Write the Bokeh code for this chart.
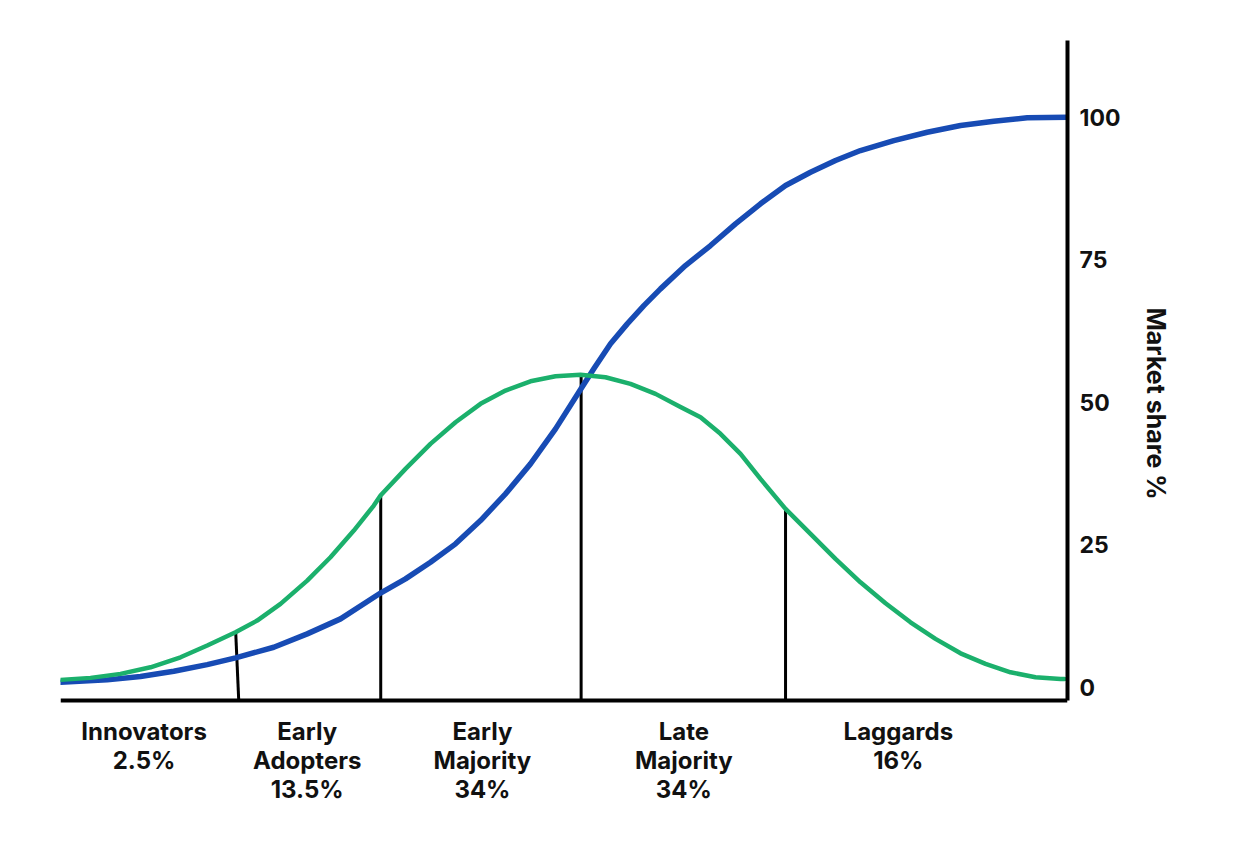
from bokeh.plotting import figure
from bokeh.models import FixedTicker, Range1d, ColumnDataSource, Title
from bokeh.core.properties import value
from bokeh.embed import file_html
from bokeh.resources import INLINE

# ---- data ----
time_x = [0, 2.98, 5.96, 8.94, 11.92, 14.57, 17.38, 19.53, 21.85, 24.50, 26.81, 29.13,
          31.11, 31.78, 34.26, 36.74, 39.23, 41.71, 44.19, 46.67, 49.16, 51.64, 54.12,
          56.60, 59.09, 61.57, 63.56, 65.54, 67.53, 69.51, 72.00, 74.48, 76.96, 79.44,
          81.93, 84.41, 86.89, 89.38, 91.86, 94.34, 96.82, 99.31, 99.7]
adopters = [1.30, 1.65, 2.35, 3.51, 5.26, 7.32, 9.65, 11.70, 14.63, 18.72, 22.81, 27.49,
            31.88, 33.63, 38.32, 42.70, 46.49, 49.72, 52.05, 53.68, 54.56, 54.81, 54.39,
            53.23, 51.47, 49.16, 47.37, 44.46, 40.95, 36.56, 31.30, 26.91, 22.53, 18.42,
            14.74, 11.40, 8.49, 5.96, 4.11, 2.63, 1.75, 1.47, 1.47]

share_x = [0, 4.64, 7.94, 11.25, 14.57, 17.38, 21.18, 24.50, 27.81, 31.78, 34.26, 36.74,
           39.23, 41.71, 44.19, 46.67, 49.16, 51.64, 52.96, 54.62, 56.28, 57.93, 59.58,
           62.06, 64.55, 67.03, 69.51, 72.00, 74.48, 76.96, 79.44, 82.75, 86.07, 89.38,
           92.68, 96.00, 100]
market_share = [0.88, 1.30, 1.88, 2.81, 3.98, 5.16, 7.02, 9.37, 12.00, 16.53, 19.02, 21.93,
                25.16, 29.25, 33.93, 39.19, 45.33, 52.23, 55.86, 60.25, 63.75, 66.96, 69.89,
                73.98, 77.49, 81.30, 84.81, 88.02, 90.35, 92.40, 94.16, 95.91, 97.37, 98.54,
                99.30, 99.89, 100]

divider_x = [17.4, 31.8, 51.7, 72.0]
divider_bottom_x = [17.7, 31.8, 51.7, 72.0]
divider_top = [9.6, 33.6, 54.8, 31.3]

categories = ["Innovators", "Early\nAdopters", "Early\nMajority", "Late\nMajority", "Laggards"]
shares = ["2.5%", "13.5%", "34%", "34%", "16%"]
category_x = [8.3, 24.5, 41.9, 61.9, 83.2]

y_ticks = [0, 25, 50, 75, 100]
y_title = "Market share %"

# ---- layout constants ----
Y_TOP = 113.46
Y_BOT = -26.0
BASE = -2.33
FONT = "Inter"
INK = "#111111"

p = figure(width=1239, height=843, frame_width=1007, frame_height=795,
           min_border_left=60, min_border_top=40, min_border_bottom=8, min_border_right=172,
           x_range=Range1d(0, 100), y_range=Range1d(Y_BOT, Y_TOP),
           x_axis_location=None, y_axis_location="right",
           toolbar_location=None, output_backend="svg",
           background_fill_color="white", border_fill_color="white")
p.outline_line_color = None
p.grid.visible = False

ax = p.yaxis[0]
ax.ticker = FixedTicker(ticks=y_ticks)
ax.bounds = (BASE, Y_TOP)
ax.axis_line_width = 4
ax.axis_line_color = "black"
ax.major_tick_line_color = None
ax.minor_tick_line_color = None
ax.major_label_standoff = 6
ax.major_label_text_font = FONT
ax.major_label_text_font_size = "23px"
ax.major_label_text_font_style = "bold"
ax.major_label_text_color = INK

title = Title(text=y_title, align="left", offset=267, standoff=34,
              text_font=FONT, text_font_size="25px", text_font_style="bold",
              text_color=INK)
p.add_layout(title, "right")

# baseline
p.segment(x0=[0], y0=[BASE], x1=[100], y1=[BASE], line_color="black", line_width=4)

# dividers
p.segment(x0=divider_bottom_x, y0=[BASE] * len(divider_x), x1=divider_x, y1=divider_top,
          line_color="black", line_width=3)

# curves
p.line(share_x, market_share, line_color="#174BB4", line_width=5.5, line_join="round", line_cap="round")
p.line(time_x, adopters, line_color="#1BB06C", line_width=4.5, line_join="round", line_cap="round")

# category labels
lx, ly, lt = [], [], []
for cx, cat, sh in zip(category_x, categories, shares):
    lines = cat.split("\n") + [sh]
    for i, t in enumerate(lines):
        lx.append(cx)
        ly.append(-7.77 - i * 5.09)
        lt.append(t)
src = ColumnDataSource(dict(x=lx, y=ly, t=lt))
p.text(x="x", y="y", text="t", source=src, text_align="center", text_baseline="middle",
       text_font=value(FONT), text_font_size="24px", text_font_style="bold", text_color=INK)

open("out.html", "w").write(file_html(p, INLINE))
